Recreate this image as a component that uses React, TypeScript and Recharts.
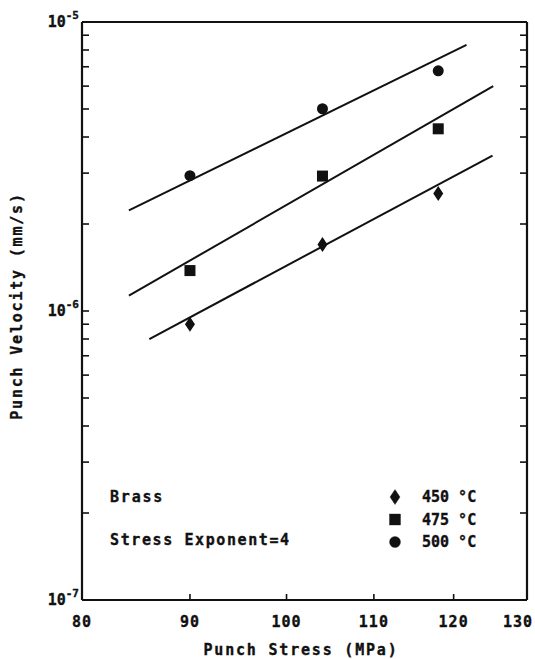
import { ComposedChart, Line, Scatter, XAxis, YAxis } from "recharts";

// measured values (punch stress in MPa, punch velocity in mm/s)
const STRESS = [90, 104, 118];
const V_450 = [9.0e-7, 1.7e-6, 2.55e-6];
const V_475 = [1.38e-6, 2.93e-6, 4.27e-6];
const V_500 = [2.94e-6, 5.01e-6, 6.78e-6];

// fitted lines (stress exponent = 4), two end points each
const FIT_X_450 = [86.1, 125.2];
const FIT_V_450 = [8.0e-7, 3.45e-6];
const FIT_X_475 = [84.2, 125.3];
const FIT_V_475 = [1.13e-6, 6.0e-6];
const FIT_X_500 = [84.2, 121.7];
const FIT_V_500 = [2.23e-6, 8.33e-6];

const X_TICKS = [80, 90, 100, 110, 120, 130];
const Y_TICKS = [
  1e-7, 2e-7, 3e-7, 4e-7, 5e-7, 6e-7, 7e-7, 8e-7, 9e-7,
  1e-6, 2e-6, 3e-6, 4e-6, 5e-6, 6e-6, 7e-6, 8e-6, 9e-6,
  1e-5,
];

const LEGEND = [
  { label: "450 °C", shape: "diamond" },
  { label: "475 °C", shape: "square" },
  { label: "500 °C", shape: "circle" },
];

const W = 535;
const H = 659;
const LEFT = 82;
const RIGHT = 527;
const TOP = 22;
const BOTTOM = 600;
const FONT = "'DejaVu Sans Mono', monospace";
const INK = "#111";

const pts = (xs: number[], ys: number[]) => xs.map((x, i) => ({ x, y: ys[i] }));

const isDecade = (v: number) => Math.abs(Math.log10(v) - Math.round(Math.log10(v))) < 1e-6;

function Marker({ cx, cy, shape }: any) {
  if (cx == null || cy == null) return <g />;
  if (shape === "diamond")
    return <path d={`M${cx},${cy - 7.5} L${cx + 5},${cy} L${cx},${cy + 7.5} L${cx - 5},${cy} Z`} fill={INK} />;
  if (shape === "square") return <rect x={cx - 5.5} y={cy - 5.5} width={11} height={11} fill={INK} />;
  return <circle cx={cx} cy={cy} r={5.5} fill={INK} />;
}

const textStyle = { fontFamily: FONT, fontWeight: "bold", fill: INK, stroke: INK, strokeWidth: 0.35 } as const;

function LeftTick({ y, payload }: any) {
  const v = payload.value;
  const dec = isDecade(v);
  return (
    <g>
      <line x1={LEFT} x2={LEFT + 7} y1={y} y2={y} stroke={INK} strokeWidth={1.6} />
      {dec && (
        <text x={79} y={y + 5} textAnchor="end" fontSize={15} {...textStyle}>
          <tspan>10</tspan>
          <tspan dy={-8} fontSize={11}>{`-${Math.abs(Math.round(Math.log10(v)))}`}</tspan>
        </text>
      )}
    </g>
  );
}

function RightTick({ y }: any) {
  return <line x1={RIGHT} x2={RIGHT - 7} y1={y} y2={y} stroke={INK} strokeWidth={1.6} />;
}

function BottomTick({ x, payload }: any) {
  const v = payload.value;
  const inner = v !== X_TICKS[0] && v !== X_TICKS[X_TICKS.length - 1];
  const last = v === X_TICKS[X_TICKS.length - 1];
  return (
    <g>
      {inner && <line x1={x} x2={x} y1={BOTTOM} y2={BOTTOM - 6} stroke={INK} strokeWidth={1.6} />}
      <text x={last ? x - 9 : x} y={627} textAnchor="middle" fontSize={15} letterSpacing={1} {...textStyle}>
        {v}
      </text>
    </g>
  );
}

function TopTick({ x, payload }: any) {
  const v = payload.value;
  if (v === X_TICKS[0] || v === X_TICKS[X_TICKS.length - 1]) return <g />;
  return <line x1={x} x2={x} y1={TOP} y2={TOP + 6} stroke={INK} strokeWidth={1.6} />;
}

export default function App() {
  const axisLine = { stroke: INK, strokeWidth: 2.2 };
  return (
    <div style={{ position: "absolute", left: 0, top: 0, width: W, height: H, background: "#fff" }}>
      <ComposedChart width={W} height={H} margin={{ top: 0, right: 0, bottom: 0, left: 0 }}>
        <XAxis
          xAxisId="main"
          type="number"
          dataKey="x"
          scale="log"
          domain={[80, 130]}
          ticks={X_TICKS}
          allowDataOverflow
          height={H - BOTTOM}
          axisLine={axisLine}
          tickLine={false}
          tick={BottomTick}
          interval={0}
        />
        <XAxis
          xAxisId="top"
          orientation="top"
          type="number"
          scale="log"
          domain={[80, 130]}
          ticks={X_TICKS}
          allowDataOverflow
          height={TOP}
          axisLine={axisLine}
          tickLine={false}
          tick={TopTick}
          interval={0}
        />
        <YAxis
          yAxisId="main"
          type="number"
          dataKey="y"
          scale="log"
          domain={[1e-7, 1e-5]}
          ticks={Y_TICKS}
          allowDataOverflow
          width={LEFT}
          axisLine={axisLine}
          tickLine={false}
          tick={LeftTick}
          interval={0}
        />
        <YAxis
          yAxisId="right"
          orientation="right"
          type="number"
          scale="log"
          domain={[1e-7, 1e-5]}
          ticks={Y_TICKS}
          allowDataOverflow
          width={W - RIGHT}
          axisLine={axisLine}
          tickLine={false}
          tick={RightTick}
          interval={0}
        />
        <Line xAxisId="main" yAxisId="main" data={pts(FIT_X_500, FIT_V_500)} dataKey="y" stroke={INK} strokeWidth={2} dot={false} isAnimationActive={false} />
        <Line xAxisId="main" yAxisId="main" data={pts(FIT_X_475, FIT_V_475)} dataKey="y" stroke={INK} strokeWidth={2} dot={false} isAnimationActive={false} />
        <Line xAxisId="main" yAxisId="main" data={pts(FIT_X_450, FIT_V_450)} dataKey="y" stroke={INK} strokeWidth={2} dot={false} isAnimationActive={false} />
        <Scatter xAxisId="main" yAxisId="main" data={pts(STRESS, V_450)} shape={(p: any) => <Marker {...p} shape="diamond" />} isAnimationActive={false} />
        <Scatter xAxisId="main" yAxisId="main" data={pts(STRESS, V_475)} shape={(p: any) => <Marker {...p} shape="square" />} isAnimationActive={false} />
        <Scatter xAxisId="main" yAxisId="main" data={pts(STRESS, V_500)} shape={(p: any) => <Marker {...p} shape="circle" />} isAnimationActive={false} />
      </ComposedChart>
      <svg width={W} height={H} style={{ position: "absolute", left: 0, top: 0, pointerEvents: "none" }}>
        <g fontSize={15} {...textStyle}>
          <text x={301} y={655} textAnchor="middle" letterSpacing={1.8}>Punch Stress (MPa)</text>
          <text x={22} y={306} textAnchor="middle" letterSpacing={1.8} transform="rotate(-90 22 306)">
            Punch Velocity (mm/s)
          </text>
          <text x={110} y={502} letterSpacing={1.8}>Brass</text>
          <text x={110} y={545} letterSpacing={1.6}>Stress Exponent=4</text>
          {LEGEND.map((l, i) => (
            <g key={l.label}>
              <Marker shape={l.shape} cx={395} cy={497 + i * 22.5} />
              <text x={422} y={502 + i * 22.5}>{l.label}</text>
            </g>
          ))}
        </g>
      </svg>
    </div>
  );
}
